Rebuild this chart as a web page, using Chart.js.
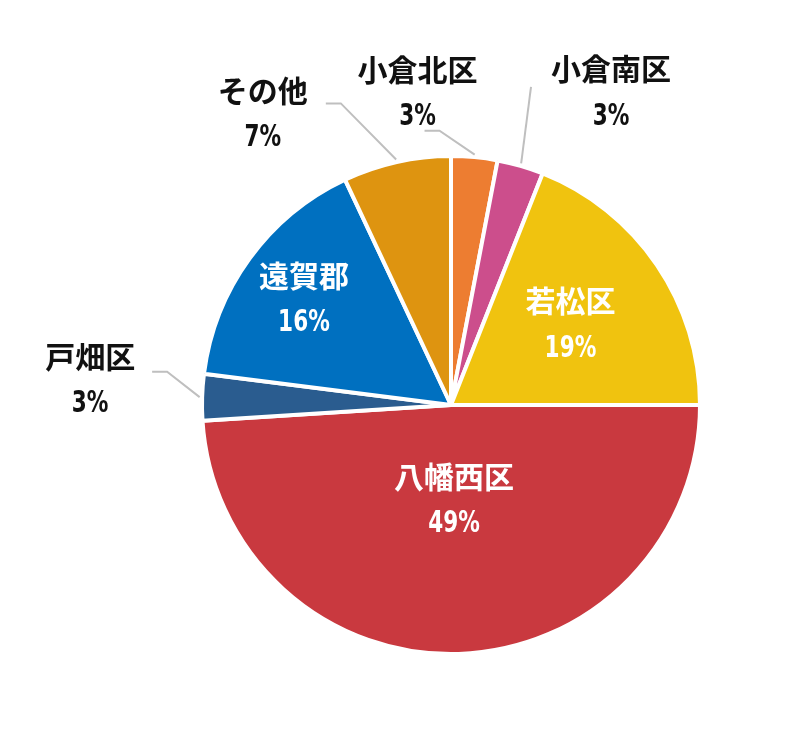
<!DOCTYPE html>
<html lang="ja">
<head>
<meta charset="UTF-8">
<title>Pie</title>
<script src="https://cdn.jsdelivr.net/npm/chart.js@4/dist/chart.umd.min.js"></script>
<style>body{margin:0;background:#fff}</style>
</head>
<body>
<canvas id="pie" width="785" height="732"></canvas>
<script>
const labels = ["小倉北区", "小倉南区", "若松区", "八幡西区", "戸畑区", "遠賀郡", "その他"];
const values = [3, 3, 19, 49, 3, 16, 7];
const colors = ["#ED7D31", "#CC4E8C", "#F0C30F", "#C9393F", "#2A5C8F", "#0070C0", "#DE9410"];

// label placement: radial factor + nudge; leader elbow/end relative to text
const place = [
  {inside:false, r:1.26, dx:-63, dy:0, elbow:[22,38], end:[7,38]},
  {inside:false, r:1.31, dx:69, dy:0, elbow:[-80,-5], end:null},
  {inside:true, r:0.58, dx:0, dy:0},
  {inside:true, r:0.38, dx:0, dy:0},
  {inside:false, r:1.45, dx:0, dy:-14, elbow:[77,-8], end:[62,-8]},
  {inside:true, r:0.73, dx:0, dy:0},
  {inside:false, r:1.2, dx:-123, dy:0, elbow:[78,-10], end:[63,-10]}
];

const labelPlugin = {
  id: "pieLabels",
  afterDraw(chart) {
    const ctx = chart.ctx;
    const meta = chart.getDatasetMeta(0);
    meta.data.forEach((arc, i) => {
      const p = arc.getProps(["x","y","startAngle","endAngle","outerRadius"], true);
      const a = (p.startAngle + p.endAngle) / 2;
      const R = p.outerRadius;
      const cfg = place[i];
      const tx = p.x + Math.cos(a) * R * cfg.r + cfg.dx;
      const ty = p.y + Math.sin(a) * R * cfg.r + cfg.dy;
      ctx.save();
      if (!cfg.inside) {
        ctx.strokeStyle = "#BFBFBF";
        ctx.lineWidth = 2;
        ctx.beginPath();
        ctx.moveTo(p.x + Math.cos(a) * R * 1.01, p.y + Math.sin(a) * R * 1.01);
        ctx.lineTo(tx + cfg.elbow[0], ty + cfg.elbow[1]);
        if (cfg.end) ctx.lineTo(tx + cfg.end[0], ty + cfg.end[1]);
        ctx.stroke();
      }
      ctx.fillStyle = cfg.inside ? "#fff" : "#111";
      ctx.textAlign = "center";
      ctx.textBaseline = "middle";
      ctx.font = "bold 30px 'Noto Sans CJK JP'";
      ctx.fillText(labels[i], tx, ty - 23);
      ctx.font = "bold 30px 'DejaVu Sans Condensed', 'DejaVu Sans'";
      ctx.save();
      ctx.translate(tx, ty + 25);
      ctx.scale(0.8, 1);
      ctx.fillText(values[i] + "%", 0, 0);
      ctx.restore();
      ctx.restore();
    });
  }
};

new Chart("pie", {
  type: "pie",
  data: {
    labels: labels,
    datasets: [{
      data: values,
      backgroundColor: colors,
      borderColor: "#fff",
      borderWidth: 4
    }]
  },
  options: {
    responsive: false,
    animation: false,
    layout: {padding: {left: 200, right: 83, top: 153, bottom: 75}},
    plugins: {legend: {display: false}, tooltip: {enabled: false}}
  },
  plugins: [labelPlugin]
});
</script>
</body>
</html>
